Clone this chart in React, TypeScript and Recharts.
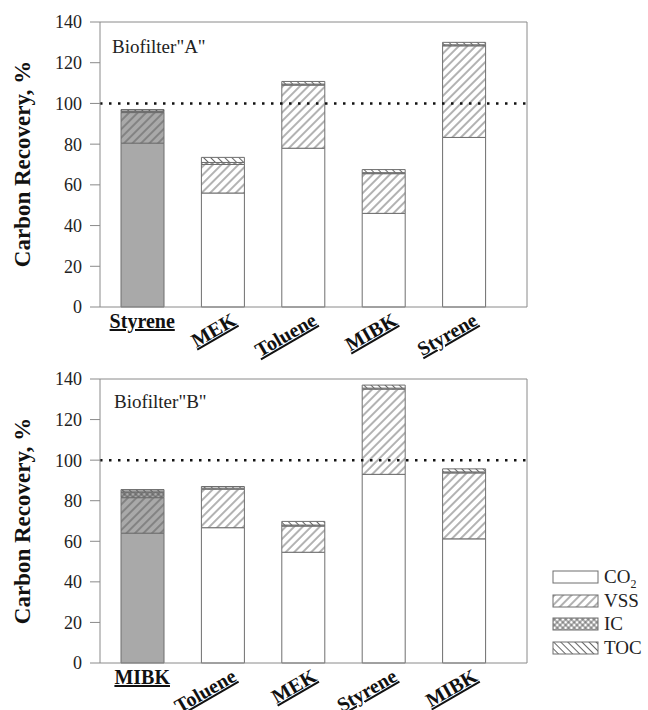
import { BarChart, Bar, XAxis, YAxis, Cell, ReferenceLine } from 'recharts'

const categoriesA = ['Styrene', 'MEK', 'Toluene', 'MIBK', 'Styrene']
const co2A = [80.5, 56, 78, 46, 83.3]
const vssA = [15, 14, 31, 19.5, 45]
const icA = [0.5, 1, 0.5, 0.5, 0.5]
const tocA = [1, 2.5, 1.3, 1.5, 1.2]

const categoriesB = ['MIBK', 'Toluene', 'MEK', 'Styrene', 'MIBK']
const co2B = [64, 66.7, 54.6, 93, 61.2]
const vssB = [17.5, 19, 12.9, 42, 32.5]
const icB = [2.8, 0.5, 0.5, 0.5, 0.5]
const tocB = [1.2, 0.8, 1.8, 1.5, 1.5]

const yTicks = [0, 20, 40, 60, 80, 100, 120, 140]
const legendItems = ['CO2', 'VSS', 'IC', 'TOC']

const SERIF = '"Liberation Serif", "Times New Roman", serif'
const GRAY_BAR = '#a9a9a9'
const EDGE = '#6e6e6e'
const AXIS = '#8a8a8a'
const HATCH = '#555'

function hatch(id: string, angle: number, gap: number, bg: string, cross = false) {
  return (
    <pattern key={id} id={id} patternUnits="userSpaceOnUse" width={gap} height={gap}
      patternTransform={`rotate(${angle})`}>
      <rect width={gap} height={gap} fill={bg} />
      <line x1={gap / 2} y1={0} x2={gap / 2} y2={gap} stroke={HATCH} strokeWidth={0.9} />
      {cross && <line x1={0} y1={gap / 2} x2={gap} y2={gap / 2} stroke={HATCH} strokeWidth={0.9} />}
    </pattern>
  )
}

function patternDefs(p: string) {
  return (
    <defs>
      {hatch(`${p}-vss-w`, 45, 6, '#fff')}
      {hatch(`${p}-vss-g`, 45, 6, GRAY_BAR)}
      {hatch(`${p}-ic-w`, 45, 4, '#fff', true)}
      {hatch(`${p}-ic-g`, 45, 4, GRAY_BAR, true)}
      {hatch(`${p}-toc-w`, -45, 5, '#fff')}
      {hatch(`${p}-toc-g`, -45, 5, GRAY_BAR)}
    </defs>
  )
}

function CatTick({ x, y, payload, index }: any) {
  const style = { fontFamily: SERIF, fontWeight: 700, fontSize: 20, textDecoration: 'underline', fill: '#111' }
  if (index === 0) {
    return <text x={x} y={y + 21} textAnchor="middle" style={style}>{payload.value}</text>
  }
  const ax = x + 15
  const ay = y + 17
  return (
    <text x={ax} y={ay} textAnchor="end" transform={`rotate(-30 ${ax} ${ay})`} style={style}>
      {payload.value}
    </text>
  )
}

const segments = ['co2', 'vss', 'ic', 'toc']

function RecoveryChart({ prefix, categories, co2, vss, ic, toc, height, top, bottom }: any) {
  const data = categories.map((name: string, i: number) => ({
    name, co2: co2[i], vss: vss[i], ic: ic[i], toc: toc[i],
  }))
  const fillFor = (key: string, grey: boolean) => {
    if (key === 'co2') return grey ? GRAY_BAR : '#fff'
    return `url(#${prefix}-${key}-${grey ? 'g' : 'w'})`
  }
  return (
    <BarChart width={648} height={height} data={data} barSize={43}
      margin={{ top: top - 10, right: 111, bottom: bottom - 30, left: 40 }}>
      {patternDefs(prefix)}
      <XAxis dataKey="name" interval={0} tickSize={0} tickMargin={0} tickLine={false}
        axisLine={{ stroke: AXIS }} tick={<CatTick />} padding={{ left: 2, right: 23 }} height={30} />
      <XAxis xAxisId="t" dataKey="name" orientation="top" height={10} tick={false} tickLine={false}
        axisLine={{ stroke: AXIS }} />
      <YAxis domain={[0, 140]} ticks={yTicks} width={60} tickSize={10} tickMargin={8}
        axisLine={{ stroke: AXIS }} tickLine={{ stroke: AXIS }}
        tick={{ fill: '#222', fontSize: 18, fontFamily: SERIF }} />
      <YAxis yAxisId="r" orientation="right" domain={[0, 140]} width={10} tick={false} tickLine={false}
        axisLine={{ stroke: AXIS }} />
      {segments.map((key) => (
        <Bar key={key} dataKey={key} stackId="s" fill={fillFor(key, false)} stroke={EDGE}
          strokeWidth={1} isAnimationActive={false}>
          {data.map((_: any, i: number) => (
            <Cell key={i} fill={fillFor(key, i === 0)} />
          ))}
        </Bar>
      ))}
      <ReferenceLine y={100} stroke="#111" strokeWidth={2.5} strokeDasharray="2.5 6.5" />
    </BarChart>
  )
}

export default function App() {
  const titleStyle = { fontFamily: SERIF, fontWeight: 700, fontSize: 23, fill: '#111' }
  const legendY = [577, 601, 624, 648]
  return (
    <div style={{ position: 'absolute', left: 0, top: 0, width: 648, height: 710, background: '#fff', overflow: 'hidden' }}>
      <div style={{ position: 'absolute', left: 0, top: 0 }}>
        <RecoveryChart prefix="a" categories={categoriesA} co2={co2A} vss={vssA} ic={icA} toc={tocA}
          height={372} top={22} bottom={65} />
      </div>
      <div style={{ position: 'absolute', left: 0, top: 350 }}>
        <RecoveryChart prefix="b" categories={categoriesB} co2={co2B} vss={vssB} ic={icB} toc={tocB}
          height={372} top={29} bottom={59} />
      </div>
      <svg width={648} height={710} style={{ position: 'absolute', left: 0, top: 0, pointerEvents: 'none' }}>
        {patternDefs('lg')}
        <text x={22} y={164} transform="rotate(-90 22 164)" textAnchor="middle" dominantBaseline="central"
          style={titleStyle}>Carbon Recovery, %</text>
        <text x={22} y={521} transform="rotate(-90 22 521)" textAnchor="middle" dominantBaseline="central"
          style={titleStyle}>Carbon Recovery, %</text>
        <text x={112} y={53} style={{ fontFamily: SERIF, fontSize: 19, fill: '#222' }}>Biofilter"A"</text>
        <text x={114} y={408} style={{ fontFamily: SERIF, fontSize: 19, fill: '#222' }}>Biofilter"B"</text>
        {legendItems.map((name, i) => {
          const key = name.toLowerCase()
          const fill = key === 'co2' ? '#fff' : `url(#lg-${key}-w)`
          const cy = legendY[i]
          return (
            <g key={name}>
              <rect x={553} y={cy - 6} width={45} height={12} fill={fill} stroke={EDGE} />
              <text x={604} y={cy + 6} style={{ fontFamily: SERIF, fontSize: 19, fill: '#222' }}>
                {key === 'co2' ? (
                  <>
                    <tspan>CO</tspan>
                    <tspan dy={5} fontSize={12}>2</tspan>
                  </>
                ) : name}
              </text>
            </g>
          )
        })}
      </svg>
    </div>
  )
}
